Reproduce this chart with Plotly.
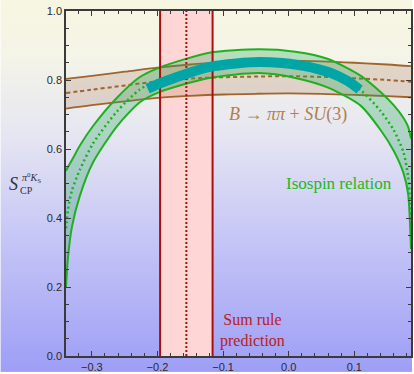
import base64
import plotly.graph_objects as go

# ---------------- data ----------------
# Sum-rule prediction (vertical band)
sum_rule_center = -0.156
sum_rule_err = 0.040

# Isospin relation band
iso_x = [-0.3394, -0.3364, -0.3303, -0.3182, -0.2985, -0.2621, -0.2273, -0.197, -0.1212,
         -0.0455, 0.01, 0.06, 0.11, 0.14, 0.16, 0.175, 0.182, 0.1864]
iso_outer = [0.537, 0.548, 0.568, 0.610, 0.666, 0.748, 0.808, 0.836, 0.879,
             0.889, 0.882, 0.861, 0.812, 0.765, 0.727, 0.690, 0.665, 0.630]
iso_inner = [0.200, 0.285, 0.375, 0.465, 0.560, 0.665, 0.735, 0.765, 0.806,
             0.820, 0.806, 0.778, 0.725, 0.655, 0.595, 0.530, 0.470, 0.310]
iso_center = [0.370, 0.425, 0.480, 0.540, 0.615, 0.708, 0.772, 0.801, 0.842,
              0.855, 0.844, 0.820, 0.770, 0.710, 0.655, 0.590, 0.520, 0.400]

# B -> pi pi + SU(3) band
su3_x = [-0.3394, -0.30, -0.25, -0.20, -0.15, -0.10, -0.05, 0.0, 0.05, 0.10, 0.15, 0.1864]
su3_upper = [0.803, 0.812, 0.824, 0.836, 0.845, 0.851, 0.855, 0.856, 0.854, 0.850, 0.845, 0.840]
su3_center = [0.762, 0.772, 0.784, 0.796, 0.804, 0.808, 0.810, 0.811, 0.809, 0.805, 0.800, 0.795]
su3_lower = [0.717, 0.727, 0.738, 0.748, 0.754, 0.758, 0.760, 0.761, 0.760, 0.757, 0.753, 0.750]

# Thick teal curve
teal_x = [-0.215, -0.19, -0.15, -0.12, -0.08, -0.045, -0.01, 0.015, 0.04, 0.065, 0.09, 0.108]
teal_y = [0.775, 0.795, 0.822, 0.838, 0.848, 0.852, 0.849, 0.843, 0.834, 0.820, 0.797, 0.772]

x_range = [-0.3394, 0.1864]
y_range = [0.0, 1.0]

# ---------------- styles ----------------
RED = "#a81010"
PINK = "rgba(255,214,214,1)"
GREEN = "#1fb01f"
GREEN_FILL = "rgba(40,170,90,0.30)"
BROWN = "#a0642d"
BROWN_FILL = "rgba(160,100,60,0.20)"
TEAL = "#00a5a5"
AXIS = "#3a3a3a"

fig = go.Figure()

# red band fill
lo, hi = sum_rule_center - sum_rule_err, sum_rule_center + sum_rule_err
fig.add_trace(go.Scatter(x=[lo, lo, hi, hi, lo], y=[y_range[0], y_range[1], y_range[1], y_range[0], y_range[0]],
                         fill="toself", fillcolor=PINK, line=dict(width=0), mode="lines",
                         hoverinfo="skip", showlegend=False))

# brown band
fig.add_trace(go.Scatter(x=su3_x, y=su3_lower, mode="lines",
                         line=dict(color=BROWN, width=1.8, shape="spline"), showlegend=False))
fig.add_trace(go.Scatter(x=su3_x, y=su3_upper, mode="lines", fill="tonexty", fillcolor=BROWN_FILL,
                         line=dict(color=BROWN, width=1.8, shape="spline"), showlegend=False))
fig.add_trace(go.Scatter(x=su3_x, y=su3_center, mode="lines",
                         line=dict(color=BROWN, width=2, dash="4px,3px", shape="spline"), showlegend=False))

# green band
fig.add_trace(go.Scatter(x=iso_x, y=iso_inner, mode="lines",
                         line=dict(color=GREEN, width=2, shape="spline", smoothing=0.7), showlegend=False))
fig.add_trace(go.Scatter(x=iso_x, y=iso_outer, mode="lines", fill="tonexty", fillcolor=GREEN_FILL,
                         line=dict(color=GREEN, width=2, shape="spline", smoothing=0.7), showlegend=False))
fig.add_trace(go.Scatter(x=iso_x, y=iso_center, mode="lines",
                         line=dict(color=GREEN, width=2.5, dash="2px,3px", shape="spline", smoothing=0.7),
                         showlegend=False))

# red lines
for xv, dash in [(lo, "solid"), (hi, "solid"), (sum_rule_center, "2px,2px")]:
    fig.add_trace(go.Scatter(x=[xv, xv], y=y_range, mode="lines",
                             line=dict(color=RED, width=2, dash=dash), showlegend=False))

# teal thick curve
fig.add_trace(go.Scatter(x=teal_x, y=teal_y, mode="lines",
                         line=dict(color=TEAL, width=10, shape="spline"), showlegend=False))

# ---------------- background gradient ----------------
W, H = 414, 374
svg = (f'<svg xmlns="http://www.w3.org/2000/svg" width="{W}" height="{H}" viewBox="0 0 {W} {H}" preserveAspectRatio="none">'
       '<defs><linearGradient id="g" x1="0" y1="0" x2="0" y2="1">'
       '<stop offset="0" stop-color="rgb(247,246,224)"/>'
       '<stop offset="0.15" stop-color="rgb(244,244,232)"/>'
       '<stop offset="0.35" stop-color="rgb(231,231,242)"/>'
       '<stop offset="0.62" stop-color="rgb(200,200,246)"/>'
       '<stop offset="1" stop-color="rgb(158,158,246)"/>'
       '</linearGradient></defs>'
       f'<rect x="0" y="0" width="{W}" height="{H}" fill="url(#g)"/></svg>')
src = "data:image/svg+xml;base64," + base64.b64encode(svg.encode()).decode()

L, R, T, B = 66, 1, 11, 16
pw, ph = W - L - R, H - T - B

def px(xp):
    return (xp - L) / pw

def py(yp):
    return (H - B - yp) / ph

fig.add_layout_image(dict(source=src, xref="paper", yref="paper", x=px(0), y=py(0),
                          sizex=W / pw, sizey=H / ph, xanchor="left", yanchor="top",
                          sizing="stretch", layer="below"))

# ---------------- annotations ----------------
serif = "Liberation Serif, Times New Roman, serif"

def note(text, x, y, size, color, **kw):
    fig.add_annotation(text=text, xref="paper", yref="paper", x=px(x), y=py(y),
                       xanchor="center", yanchor="middle", showarrow=False,
                       font=dict(family=serif, size=size, color=color), **kw)

note("<i>B</i> → <i>ππ</i> + <i>SU</i>(3)", 289, 115, 18, "#b0804f")
note("Isospin relation", 341, 184, 17, "#22b822")
note("Sum rule<br>prediction", 254, 332, 16, "#b82020", align="center")
# y-axis label S_CP^{pi0 K_S}
note("<i>S</i>", 13, 185, 18, "#333333")
note("CP", 26, 192, 10, "#333333")
note("<i>π</i><sup>0</sup><i>K</i><sub>S</sub>", 31, 179, 10, "#333333")

# ---------------- axes ----------------
axis_common = dict(showgrid=False, zeroline=False, showline=True, linecolor=AXIS, linewidth=1.5,
                   mirror="ticks", ticks="inside", ticklen=5, tickwidth=1.2, tickcolor=AXIS,
                   tickfont=dict(family="Liberation Sans, Arial, sans-serif", size=11, color="#2a2a2a"))
fig.update_xaxes(range=x_range, tick0=0, dtick=0.1, tickformat=".1f",
                 minor=dict(dtick=0.02, tick0=0, ticks="inside", ticklen=3, tickcolor=AXIS, tickwidth=1),
                 **axis_common)
fig.update_yaxes(range=y_range, tick0=0, dtick=0.2, tickformat=".1f",
                 minor=dict(dtick=0.05, tick0=0, ticks="inside", ticklen=3, tickcolor=AXIS, tickwidth=1),
                 **axis_common)

fig.update_layout(width=W, height=H, margin=dict(l=L, r=R, t=T, b=B),
                  paper_bgcolor="rgba(0,0,0,0)", plot_bgcolor="rgba(0,0,0,0)",
                  showlegend=False)

fig.write_html("out.html")
